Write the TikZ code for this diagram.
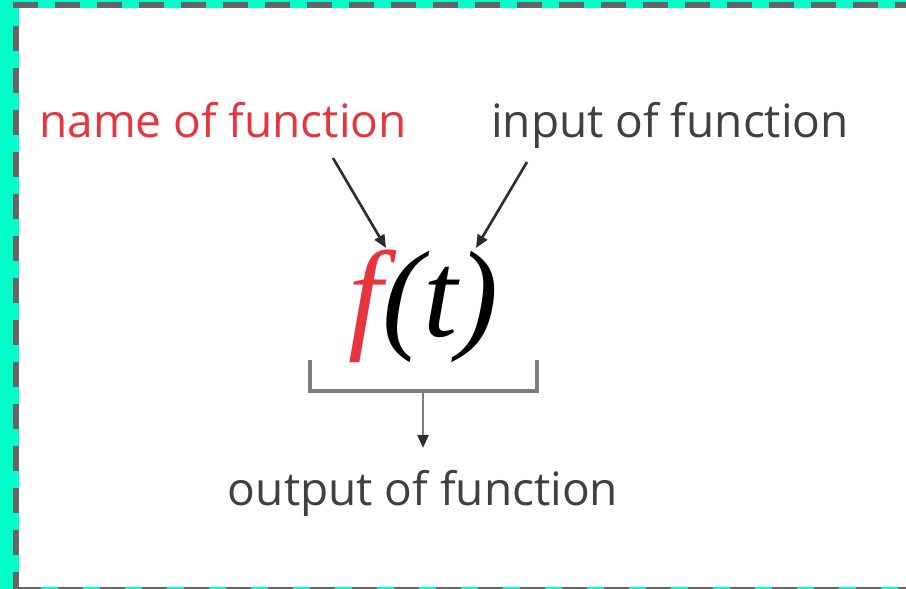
\documentclass[tikz,border=0pt]{standalone}
\usepackage{fontspec}
\setmainfont{Open Sans}
\newfontfamily\mathserif{Liberation Serif}
\usetikzlibrary{arrows.meta}
\definecolor{teal1}{RGB}{0,255,200}
\definecolor{dashgray}{RGB}{102,102,102}
\definecolor{redtxt}{RGB}{232,52,62}
\definecolor{graytxt}{RGB}{64,64,64}
\definecolor{arrgray}{RGB}{45,45,45}
\definecolor{brkgray}{RGB}{125,125,125}
\tikzset{
  lbl/.style={font=\fontsize{46}{50}\selectfont, inner sep=0pt, anchor=base},
  framedash/.style={draw=dashgray, line width=6pt, dash pattern=on 25pt off 17pt},
  pointer/.style={draw=arrgray, line width=2.6pt, -{Triangle[length=13pt,width=11pt,color=arrgray]}},
  brk/.style={draw=brkgray, line width=3.5pt},
}
\begin{document}
\begin{tikzpicture}[x=1pt,y=-1pt]
\useasboundingbox (0,0) rectangle (906,589);
\fill[teal1] (0,0) rectangle (906,589);
\fill[white] (19,8) rectangle (906,587);
\draw[framedash] (13,5) -- (906,5);
\draw[framedash] (16,26) -- (16,592);
\draw[framedash] (16,590) -- (906,590);

\node[lbl, text=redtxt] (name) at (223,137) {name of function};
\node[lbl, text=graytxt] (input) at (670,137) {input of function};
\node[lbl, text=graytxt] (output) at (423,505) {output of function};

\node[inner sep=0pt, anchor=base west, font=\mathserif\itshape\fontsize{123}{130}\selectfont] (ft) at (348,336) {\textcolor{redtxt}{f}(t)};

\coordinate (nstart) at (333,158);
\coordinate (ntip) at (386,248);
\coordinate (istart) at (527,162);
\coordinate (itip) at (476,248);
\draw[pointer] (nstart) -- (ntip);
\draw[pointer] (istart) -- (itip);

\coordinate (bl) at (310,360);
\coordinate (blc) at (310,391);
\coordinate (brc) at (537,391);
\coordinate (br) at (537,360);
\coordinate (bmid) at (423,391);
\coordinate (otip) at (423,448);
\draw[brk] (bl) -- (blc) -- (brc) -- (br);
\draw[pointer, draw=brkgray] (bmid) -- (otip);
\end{tikzpicture}
\end{document}
